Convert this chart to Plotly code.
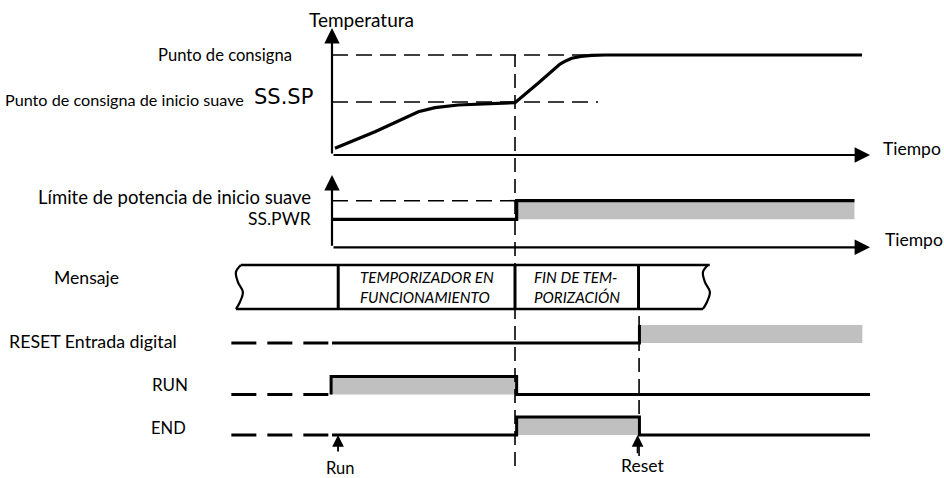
import plotly.graph_objects as go

W, H = 944, 478

# ---------------- data ----------------
# time in minutes from the origin of the time axes; the timer runs for 10 minutes
temp_time = [0.16, 2.35, 4.72, 5.2, 5.63, 6.89, 8.73, 10.0, 11.26, 12.46, 12.8, 13.1, 13.6, 14.19, 14.92, 28.96]
temp_value = [6.7, 23.3, 43.3, 45.6, 47.3, 50.0, 51.7, 52.3, 71.7, 91.0, 94.3, 96.7, 98.6, 99.6, 100.0, 100.0]
setpoint = 100.0
soft_start_setpoint = 53.0
setpoint_line_end = 28.96
ssp_line_end = 14.54
time_axis_end = 29.4
temp_axis_top = 127.0

power_time = [0.0, 10.09, 10.09, 28.55]
power_value = [60, 60, 100, 100]
power_full = 100
power_dash_end = 10.0
power_axis_top = 155
power_axis_end = 29.4

timer_end = 10.0
reset_time = 16.78

msg_bounds = [-5.14, 0.34, 10.0, 16.75, 20.38]
msg_texts = ["TEMPORIZADOR EN<br>FUNCIONAMIENTO", "FIN DE TEM-<br>PORIZACIÓN"]

history_start = -5.5

reset_t = [0.0, 16.8, 16.8, 28.98]
reset_lv = [0, 0, 1, 1]
run_t = [-0.05, -0.05, 10.09, 10.09, 29.4]
run_lv = [0, 1, 1, 0, 0]
end_t = [0.0, 10.09, 10.09, 16.8, 16.8, 29.4]
end_lv = [0, 0, 1, 1, 0, 0]

run_event = 0.33
reset_event = 16.7

# ---------------- layout helpers ----------------
PX_PER_MIN = 18.3
X0_PX = 332.0
FONT = "Lato"
BLACK = "#000000"
GREY = "#c0c0c0"


def yrange(px_zero, px_per_unit):
    return [-(H - px_zero) / px_per_unit, px_zero / px_per_unit]


def paper(px, py):
    return px / W, 1 - py / H


fig = go.Figure()


def line(x, y, yaxis, width=3, dash=None, shape="linear", color=BLACK):
    fig.add_trace(go.Scatter(x=x, y=y, yaxis=yaxis, mode="lines", hoverinfo="skip",
                             line=dict(color=color, width=width, dash=dash, shape=shape),
                             showlegend=False))


def high_fill(ts, lvs, yaxis, low=0, high=1):
    for i in range(len(ts) - 1):
        if lvs[i] == high and lvs[i + 1] == high and ts[i + 1] > ts[i]:
            fig.add_trace(go.Scatter(x=[ts[i], ts[i + 1], ts[i + 1], ts[i], ts[i]],
                                     y=[low, low, high, high, low], yaxis=yaxis,
                                     mode="lines", fill="toself", fillcolor=GREY,
                                     line=dict(width=0, color=GREY), hoverinfo="skip",
                                     showlegend=False))


DASH_SIG = "16px,8px"
DASH_HIST = "25px,11px"

# ---- temperature panel (y) ----
line([0, setpoint_line_end], [setpoint, setpoint], "y", width=1.6, dash=DASH_SIG)
line([0, ssp_line_end], [soft_start_setpoint, soft_start_setpoint], "y", width=1.6, dash=DASH_SIG)
line(temp_time, temp_value, "y", width=3.2)

# ---- power panel (y2) ----
fig.add_trace(go.Scatter(x=[power_time[2], power_time[3], power_time[3], power_time[2], power_time[2]],
                         y=[power_value[0], power_value[0], power_value[3], power_value[3], power_value[0]],
                         yaxis="y2", mode="lines", fill="toself", fillcolor=GREY,
                         line=dict(width=0, color=GREY), hoverinfo="skip", showlegend=False))
line([0, power_dash_end], [power_full, power_full], "y2", width=1.6, dash=DASH_SIG)
line(power_time, power_value, "y2", width=3.2)

# ---- message row (y3) ----
wave_dt = [0.16, -0.11, 0.0, 0.27, 0.11, -0.11]
wave_lv = [1.0, 0.84, 0.61, 0.39, 0.16, 0.0]
line([msg_bounds[0] + wave_dt[0], msg_bounds[-1] + wave_dt[0] + 0.1], [1, 1], "y3", width=2.6)
line([msg_bounds[0] + wave_dt[-1], msg_bounds[-1] + wave_dt[-1]], [0, 0], "y3", width=2.6)
for b in (msg_bounds[0], msg_bounds[-1]):
    line([b + d for d in wave_dt], wave_lv, "y3", width=2.2, shape="spline")
for b in msg_bounds[1:-1]:
    line([b, b], [0, 1], "y3", width=3)
for i, txt in enumerate(msg_texts):
    fig.add_annotation(x=(msg_bounds[i + 1] + msg_bounds[i + 2]) / 2, y=0.5, xref="x", yref="y3",
                       text="<i>" + txt + "</i>", showarrow=False, align="left",
                       xanchor="center", yanchor="middle",
                       font=dict(family=FONT, size=15.2, color=BLACK))

# ---- digital rows ----
for ts, lvs, ax in ((reset_t, reset_lv, "y4"), (run_t, run_lv, "y5"), (end_t, end_lv, "y6")):
    high_fill(ts, lvs, ax)
line([history_start, reset_t[0]], [0, 0], "y4", width=3, dash=DASH_HIST)
line([history_start, run_t[0]], [0, 0], "y5", width=3, dash=DASH_HIST)
line([history_start, end_t[0]], [0, 0], "y6", width=3, dash=DASH_HIST)
line(reset_t[:3], reset_lv[:3], "y4", width=3)
line(run_t, run_lv, "y5", width=3)
line(end_t, end_lv, "y6", width=3)

# ---- event lines ----
for t, top, bot in ((timer_end, 55, 466), (reset_time, 310, 456)):
    fig.add_shape(type="line", xref="x", yref="paper", x0=t, x1=t,
                  y0=1 - bot / H, y1=1 - top / H,
                  line=dict(color=BLACK, width=1.6, dash="14px,7px"))


# ---- axes with arrows ----
def arrow(x, y, ax, ay, yref, size=1.0, width=2.2):
    fig.add_annotation(x=x, y=y, ax=ax, ay=ay, xref="x", yref=yref, axref="x", ayref=yref,
                       showarrow=True, arrowhead=2, arrowsize=size, arrowwidth=width,
                       arrowcolor=BLACK, text="")


arrow(0, temp_axis_top, 0, 0, "y", size=1.4)
arrow(time_axis_end, 0, 0, 0, "y", size=1.4)
arrow(0, power_axis_top, 0, 0, "y2", size=1.4)
arrow(power_axis_end, 0, 0, 0, "y2", size=1.4)
arrow(run_event, 0, run_event, -1.0, "y6", size=1.3, width=1.8)
arrow(reset_event, 0, reset_event, -1.1, "y6", size=1.3, width=1.8)


# ---- labels ----
def label(text, px, py, xanchor="left", size=16, family=FONT):
    x, y = paper(px, py)
    fig.add_annotation(x=x, y=y, xref="paper", yref="paper", text=text, showarrow=False,
                       xanchor=xanchor, yanchor="middle",
                       font=dict(family=family, size=size, color=BLACK))


label("Temperatura", 361, 19, "center", 19)
label("Punto de consigna", 294, 55, "right", 16.6)
label("Punto de consigna de inicio suave", 246, 99, "right", 16.2)
label("SS.SP", 252, 97, "left", 21, "DejaVu Sans")
label("Límite de potencia de inicio suave", 313, 197, "right", 18.5)
label("SS.PWR", 313, 218, "right", 17.5)
label("Mensaje", 52, 277, "left", 17.6)
label("RESET Entrada digital", 7, 341, "left", 17.8)
label("RUN", 190, 384, "right", 17)
label("END", 188, 428, "right", 16.5)
label("Run", 340, 468, "center", 16.5)
label("Reset", 642, 465, "center", 17.5)
label("Tiempo", 881, 148, "left", 17.5)
label("Tiempo", 883, 239, "left", 17.5)

# ---- axes ----
ax_common = dict(visible=False, fixedrange=True)
fig.update_layout(
    width=W, height=H, margin=dict(l=0, r=0, t=0, b=0),
    paper_bgcolor="white", plot_bgcolor="white",
    xaxis=dict(range=[-X0_PX / PX_PER_MIN, (W - X0_PX) / PX_PER_MIN], domain=[0, 1], **ax_common),
    yaxis=dict(range=yrange(155, 1.0), domain=[0, 1], **ax_common),
    yaxis2=dict(range=yrange(247.3, 0.466), overlaying="y", anchor="x", **ax_common),
    yaxis3=dict(range=yrange(309, 44), overlaying="y", anchor="x", **ax_common),
    yaxis4=dict(range=yrange(343, 18), overlaying="y", anchor="x", **ax_common),
    yaxis5=dict(range=yrange(394.5, 18), overlaying="y", anchor="x", **ax_common),
    yaxis6=dict(range=yrange(435, 18), overlaying="y", anchor="x", **ax_common),
    showlegend=False,
)

fig.write_html("out.html", config={"displayModeBar": False},
               post_script="document.body.style.margin='0';document.body.style.overflow='hidden';")
